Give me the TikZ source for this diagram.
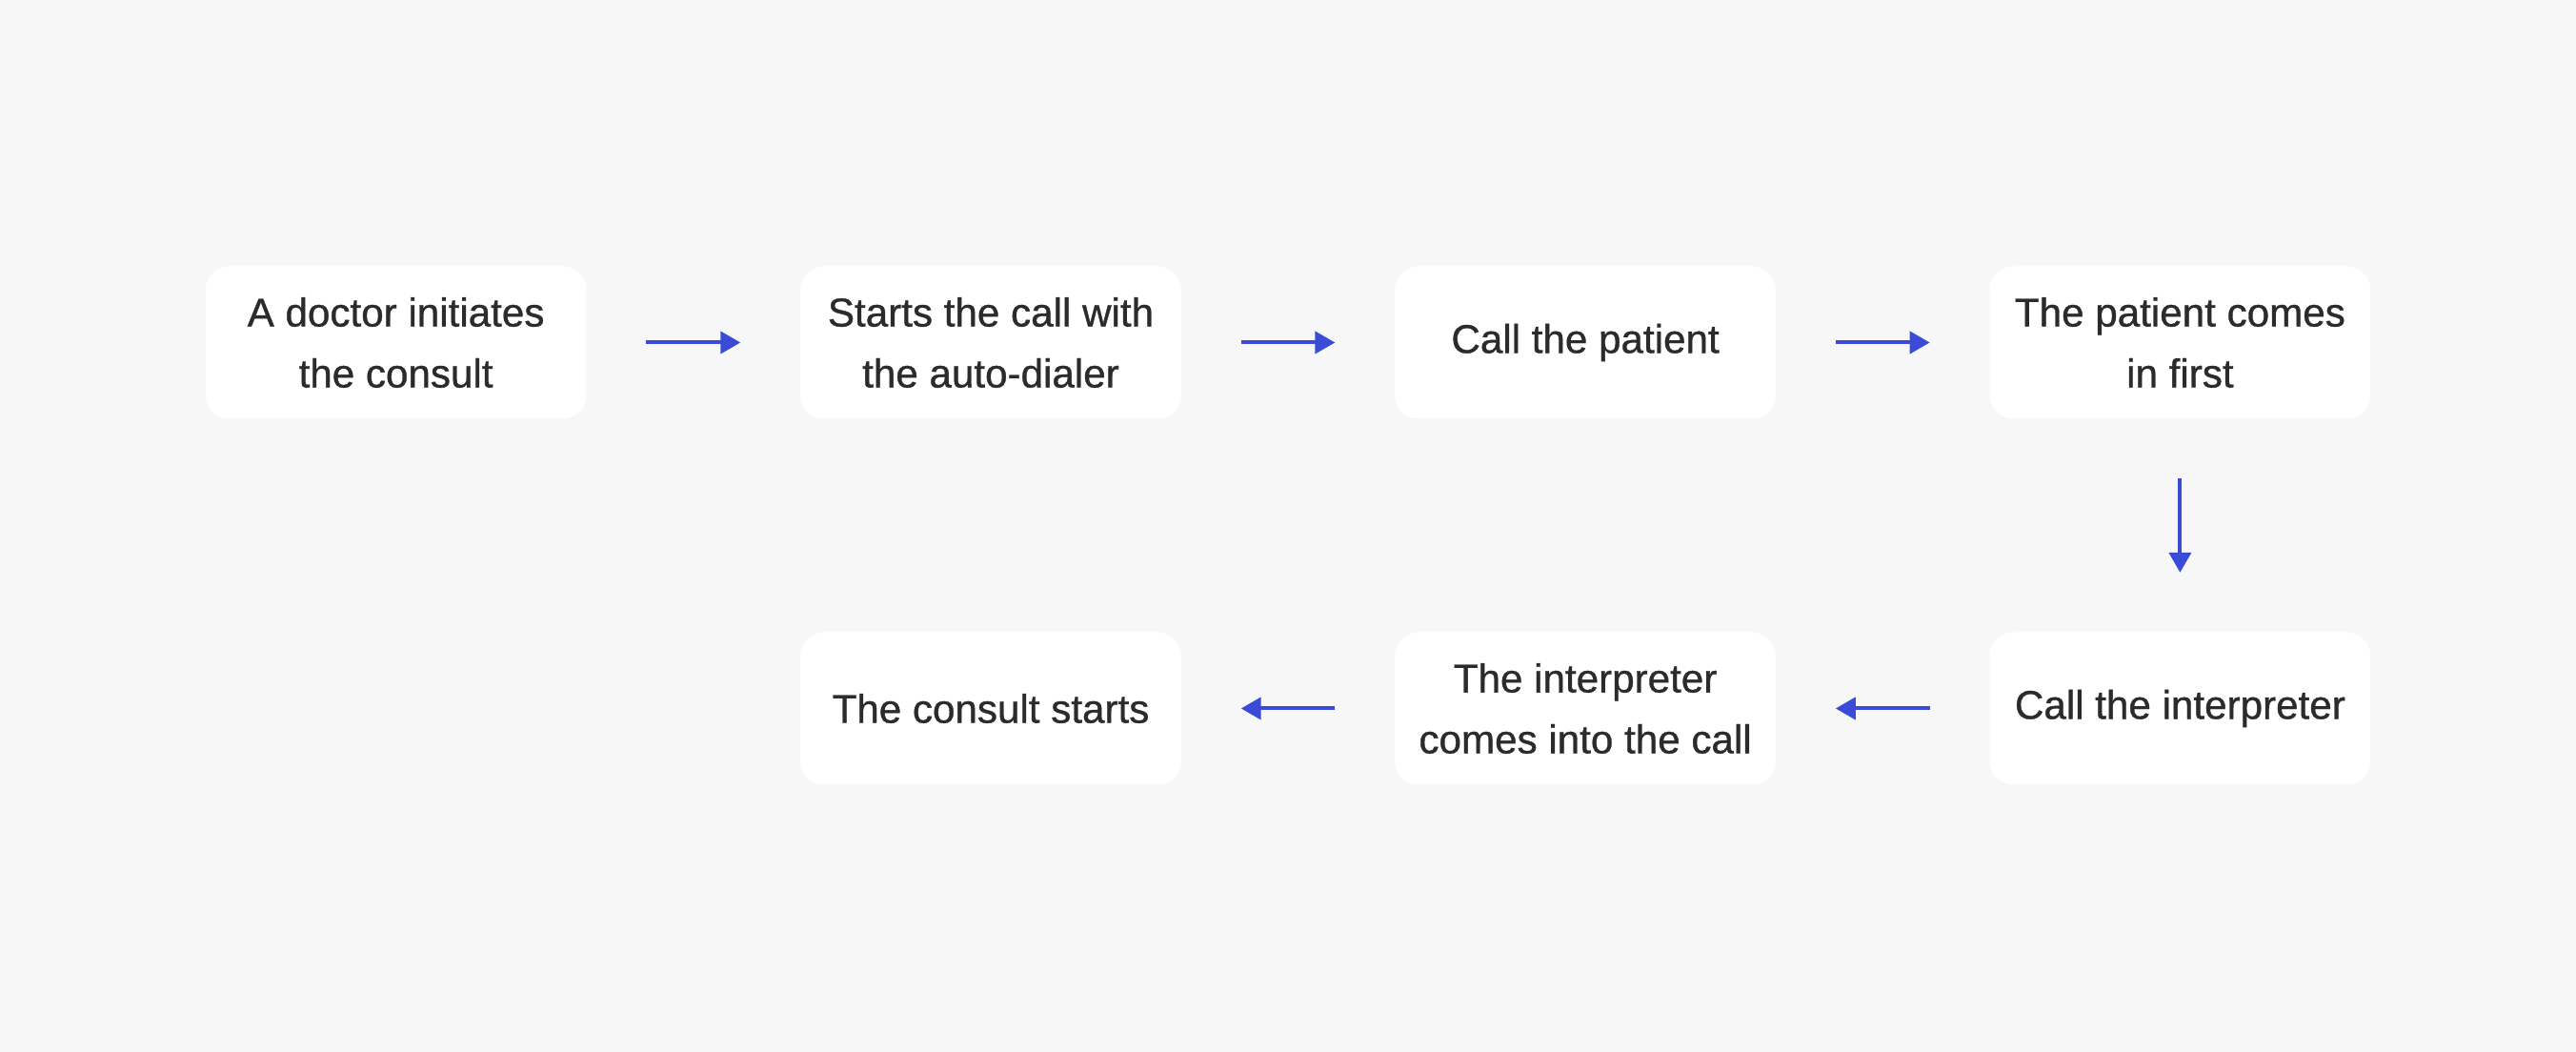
\documentclass[tikz,border=0pt]{standalone}
\usepackage{fontspec}
\setmainfont[FakeBold=0.8]{Liberation Sans}
\usetikzlibrary{arrows.meta}
\definecolor{flowblue}{HTML}{3B4BD8}
\definecolor{boxtext}{HTML}{2B2B2B}
\definecolor{pagebg}{HTML}{F7F7F7}
\begin{document}
\begin{tikzpicture}[>={Triangle[length=0.21cm,width=0.23cm]},
  stepbox/.style={fill=white,rounded corners=0.25cm,minimum width=4cm,
    minimum height=1.6cm,align=center,text=boxtext,
    font=\fontsize{12}{18.2}\selectfont},
  flow/.style={->,draw=flowblue,fill=flowblue,line width=0.04cm,
    shorten >=0.62cm,shorten <=0.62cm}]
\fill[pagebg] (0,0) rectangle (27.04,-11.04);

% top row
\node[stepbox] (doctor) at (4.156,-3.595) {A doctor initiates\\the consult};
\node[stepbox] (dialer) at (10.40,-3.595) {Starts the call with\\the auto-dialer};
\node[stepbox] (patient) at (16.641,-3.595) {Call the patient};
\node[stepbox] (first) at (22.884,-3.595) {The patient comes\\in first};

% bottom row
\node[stepbox] (callint) at (22.884,-7.435) {Call the interpreter};
\node[stepbox] (intjoin) at (16.641,-7.435) {The interpreter\\comes into the call};
\node[stepbox] (start) at (10.40,-7.435) {The consult starts};

\draw[flow] (doctor) -- (dialer);
\draw[flow] (dialer) -- (patient);
\draw[flow] (patient) -- (first);
\draw[flow] (first) -- (callint);
\draw[flow] (callint) -- (intjoin);
\draw[flow] (intjoin) -- (start);
\end{tikzpicture}
\end{document}
